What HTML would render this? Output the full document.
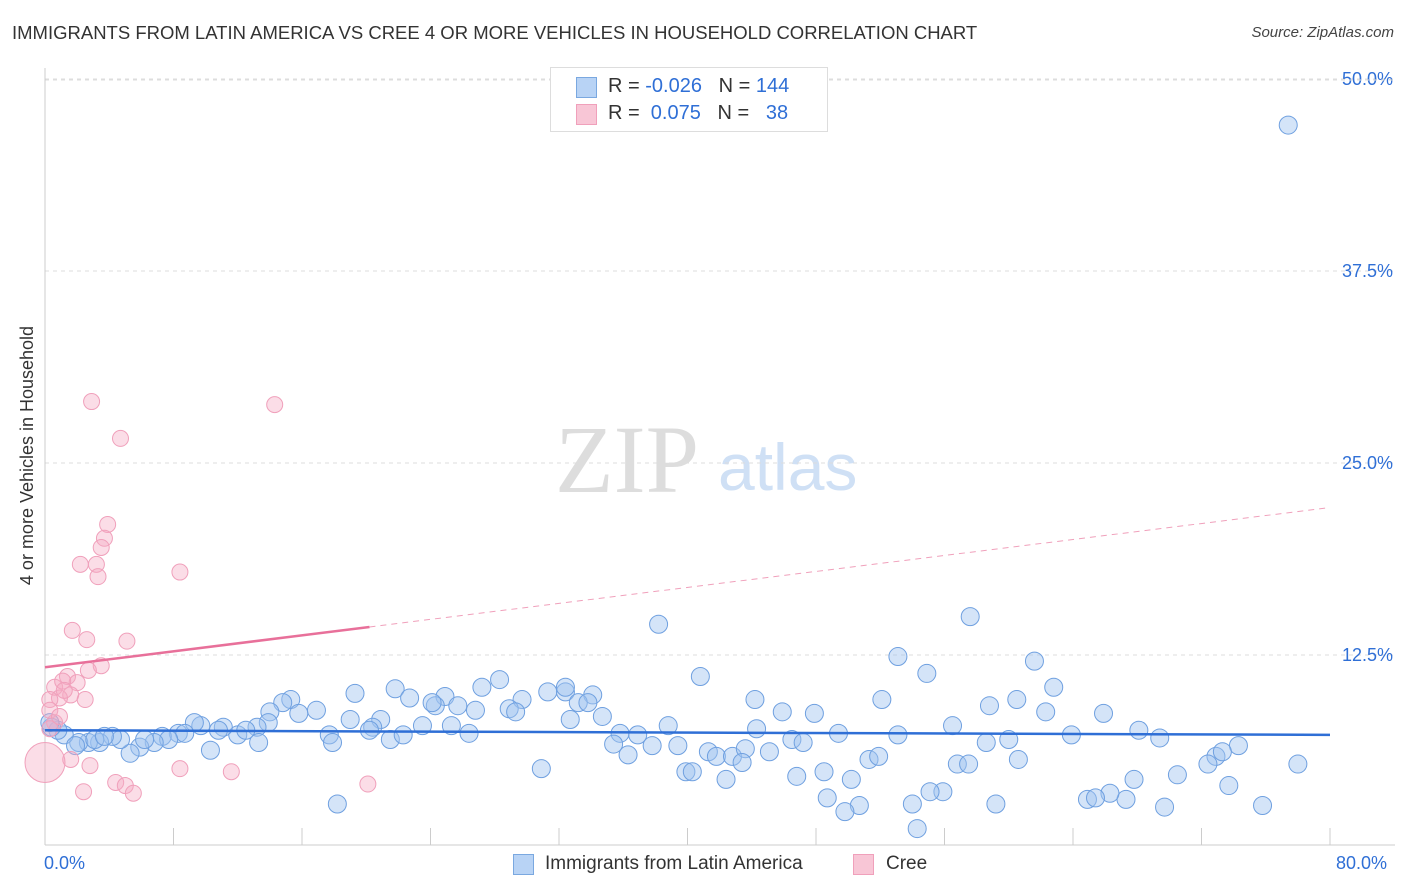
<!DOCTYPE html>
<html><head><meta charset="utf-8"><style>
body{margin:0;background:#fff;font-family:"Liberation Sans",sans-serif;}
#wrap{position:relative;width:1406px;height:892px;overflow:hidden;}
.t{position:absolute;white-space:nowrap;}
</style></head><body>
<div id="wrap">
<div class="t" style="left:12px;top:22px;font-size:18.5px;color:#333;">IMMIGRANTS FROM LATIN AMERICA VS CREE 4 OR MORE VEHICLES IN HOUSEHOLD CORRELATION CHART</div>
<div class="t" style="right:12px;top:24px;font-size:15px;color:#444;font-style:italic;">Source: ZipAtlas.com</div>
<div class="t" style="left:-102px;top:445px;font-size:18px;color:#333;transform:rotate(-90deg);">4 or more Vehicles in Household</div>
<svg id="svg" width="1406" height="892" style="position:absolute;left:0;top:0">
<text x="555" y="492" font-family="Liberation Serif,serif" font-size="96" fill="#ddd">ZIP</text>
<text x="718" y="490" font-family="Liberation Sans,sans-serif" font-size="66" fill="#cfe0f5">atlas</text>
<g id="grid"></g><g id="blue"></g><g id="pink"></g><g id="trend"></g>
</svg>
<div style="position:absolute;left:550px;top:67px;width:276px;height:63px;border:1px solid #ddd;background:#fff;font-size:20px;color:#333;">
<div style="position:absolute;left:25px;top:9px;width:19px;height:19px;background:#b8d3f5;border:1px solid #7aa8e0;"></div>
<div class="t" style="left:57px;top:7px;">R = <span style="color:#2f6fd6">-0.026</span>&nbsp;&nbsp;&nbsp;N = <span style="color:#2f6fd6">144</span></div>
<div style="position:absolute;left:25px;top:36px;width:19px;height:19px;background:#f8c6d6;border:1px solid #f0a0bb;"></div>
<div class="t" style="left:57px;top:34px;">R = &nbsp;<span style="color:#2f6fd6">0.075</span>&nbsp;&nbsp;&nbsp;N = &nbsp;&nbsp;<span style="color:#2f6fd6">38</span></div>
</div>
<div class="t" style="left:44px;top:853px;font-size:18px;color:#2f6fd6;">0.0%</div>
<div class="t" style="left:1336px;top:853px;font-size:18px;color:#2f6fd6;">80.0%</div>
<div style="position:absolute;left:513px;top:854px;width:19px;height:19px;background:#b8d3f5;border:1px solid #7aa8e0;"></div>
<div class="t" style="left:545px;top:853px;font-size:19px;color:#333;">Immigrants from Latin America</div>
<div style="position:absolute;left:853px;top:854px;width:19px;height:19px;background:#f8c6d6;border:1px solid #f0a0bb;"></div>
<div class="t" style="left:886px;top:853px;font-size:19px;color:#333;">Cree</div>
</div>
<script>
const yTicks=[12.5,25,37.5,50];
const yTickLabels=["12.5%","25.0%","37.5%","50.0%"];
const xTicks=[0,8,16,24,32,40,48,56,64,72,80];
const blueX=[77.4,38.2,57.6,53.1,61.6,54.9,40.8,62.8,28.3,21.8,27.2,32.4,31.3,34.1,32.4,22.7,19.3,15.3,14.8,24.9,24.3,25.7,24.1,29.7,33.2,33.8,20.9,28.9,29.3,26.8,34.7,32.7,38.8,44.2,45.9,47.9,52.1,58.8,60.5,62.3,65.9,68.1,69.4,56.5,53.1,49.4,44.3,46.5,47.2,35.8,36.9,35.4,36.3,37.8,39.4,41.3,41.8,42.8,43.6,43.4,45.1,42.4,39.9,40.3,46.8,48.5,50.2,51.3,51.9,56.8,57.5,58.6,60.0,60.6,63.9,74.3,72.9,73.3,72.4,70.5,67.8,78.0,73.7,67.3,66.3,64.9,65.4,69.7,75.8,59.2,55.9,55.1,54.0,50.7,49.8,48.7,54.3,30.9,18.2,14.0,15.8,16.9,19.0,20.4,20.2,17.7,17.9,21.5,22.3,23.5,26.4,25.3,13.9,13.2,12.0,12.5,11.1,10.8,9.7,9.3,8.3,8.7,7.3,7.7,6.8,5.9,5.3,4.7,4.2,3.4,2.7,2.1,1.2,0.8,0.4,0.3,1.9,3.1,10.3,13.3,6.2,3.7];
const blueY=[47.0,14.5,15.0,12.4,12.1,11.3,11.1,10.4,10.9,10.3,10.4,10.1,10.1,9.9,10.4,9.7,10.0,9.6,9.4,9.8,9.2,9.2,9.4,9.6,9.4,9.4,8.3,9.0,8.8,8.9,8.5,8.3,7.9,9.6,8.8,8.7,9.6,9.2,9.6,8.8,8.7,7.6,7.1,7.9,7.3,7.4,7.7,7.0,6.8,7.4,7.3,6.7,6.0,6.6,6.6,6.2,5.9,5.9,6.4,5.5,6.2,4.4,4.9,4.9,4.6,4.9,4.4,5.7,5.9,5.4,5.4,6.8,7.0,5.7,7.3,6.6,5.9,6.2,5.4,4.7,4.4,5.4,4.0,3.1,3.5,3.1,3.2,2.6,2.7,2.8,3.6,3.6,2.8,2.7,2.3,3.2,1.2,5.1,2.8,8.8,8.7,8.9,8.3,7.8,7.6,7.3,6.8,7.0,7.3,7.9,7.4,7.9,8.1,7.8,7.3,7.6,7.8,7.6,7.9,8.1,7.4,7.4,7.2,7.0,6.8,6.5,6.1,7.0,7.2,6.8,6.8,6.8,7.3,7.6,7.8,8.1,6.6,7.0,6.3,6.8,7.0,7.2];
const pinkX=[2.9,14.3,4.7,3.9,3.7,3.5,2.2,3.2,8.4,3.3,1.7,2.6,5.1,3.5,2.7,1.4,2.0,0.6,1.6,0.9,2.5,0.3,0.6,0.3,1.6,2.8,8.4,11.6,4.4,5.0,5.5,2.4,20.1,0.0,0.3,0.9,1.1,1.2];
const pinkY=[29.0,28.8,26.6,21.0,20.1,19.5,18.4,18.4,17.9,17.6,14.1,13.5,13.4,11.8,11.5,11.1,10.7,10.4,9.9,9.7,9.6,9.6,8.1,7.7,5.7,5.3,5.1,4.9,4.2,4.0,3.5,3.6,4.1,5.5,8.9,8.5,10.8,10.2];
const blueTrend=[7.6,7.3];
const pinkTrend=[11.7,22.1];
const pinkSolidEnd=20.2;

const X0=45,X1=1330,Y0=847,YPER=192/12.5;
const sx=v=>X0+(X1-X0)*v/80;
const sy=v=>Y0-v*YPER;
const NS="http://www.w3.org/2000/svg";
function mk(tag,attrs,parent){const e=document.createElementNS(NS,tag);for(const k in attrs)e.setAttribute(k,attrs[k]);document.getElementById(parent).appendChild(e);return e;}
yTicks.forEach((t,i)=>{
  const l=mk('line',{x1:45,x2:1395,y1:sy(t),y2:sy(t),stroke:'#ddd','stroke-dasharray':'4,4'},'grid');
  
  
  const tx=mk('text',{x:1393,y:sy(t)+6,'text-anchor':'end','font-size':18,fill:'#2f6fd6','font-family':'Liberation Sans,sans-serif'},'grid');
  tx.textContent=yTickLabels[i];
  
  
});
const topGrid=mk('line',{x1:45,x2:1395,y1:80,y2:80,stroke:'#ddd','stroke-dasharray':'4,4'},'grid');


const yAxisLine=mk('line',{x1:45,x2:45,y1:68,y2:845,stroke:'#ccc'},'grid');


const xAxisLine=mk('line',{x1:45,x2:1395,y1:845,y2:845,stroke:'#ccc'},'grid');


xTicks.forEach(t=>{
  const l=mk('line',{x1:sx(t),x2:sx(t),y1:828,y2:845,stroke:'#ccc'},'grid');
  
  
});
blueX.forEach((v,i)=>{
  const c=mk('circle',{cx:sx(v),cy:sy(blueY[i]),r:9,fill:'rgba(160,195,240,0.45)',stroke:'#6fa0e0','stroke-width':1},'blue');
  
  
});
pinkX.forEach((v,i)=>{
  const c=mk('circle',{cx:sx(v),cy:sy(pinkY[i]),r:i==33?20:8,fill:'rgba(245,170,195,0.4)',stroke:'#f0a0bb','stroke-width':1},'pink');
  
  
});
const bt=mk('line',{x1:sx(0),y1:sy(blueTrend[0]),x2:sx(80),y2:sy(blueTrend[1]),stroke:'#2f6fd6','stroke-width':2.5},'trend');


const pAt=x=>pinkTrend[0]+(pinkTrend[1]-pinkTrend[0])*x/80;
const ps=mk('line',{x1:sx(0),y1:sy(pAt(0)),x2:sx(pinkSolidEnd),y2:sy(pAt(pinkSolidEnd)),stroke:'#e8709a','stroke-width':2.5},'trend');


const pd=mk('line',{x1:sx(pinkSolidEnd),y1:sy(pAt(pinkSolidEnd)),x2:sx(80),y2:sy(pAt(80)),stroke:'#f0a0bb','stroke-width':1,'stroke-dasharray':'6,5'},'trend');


</script>
</body></html>
